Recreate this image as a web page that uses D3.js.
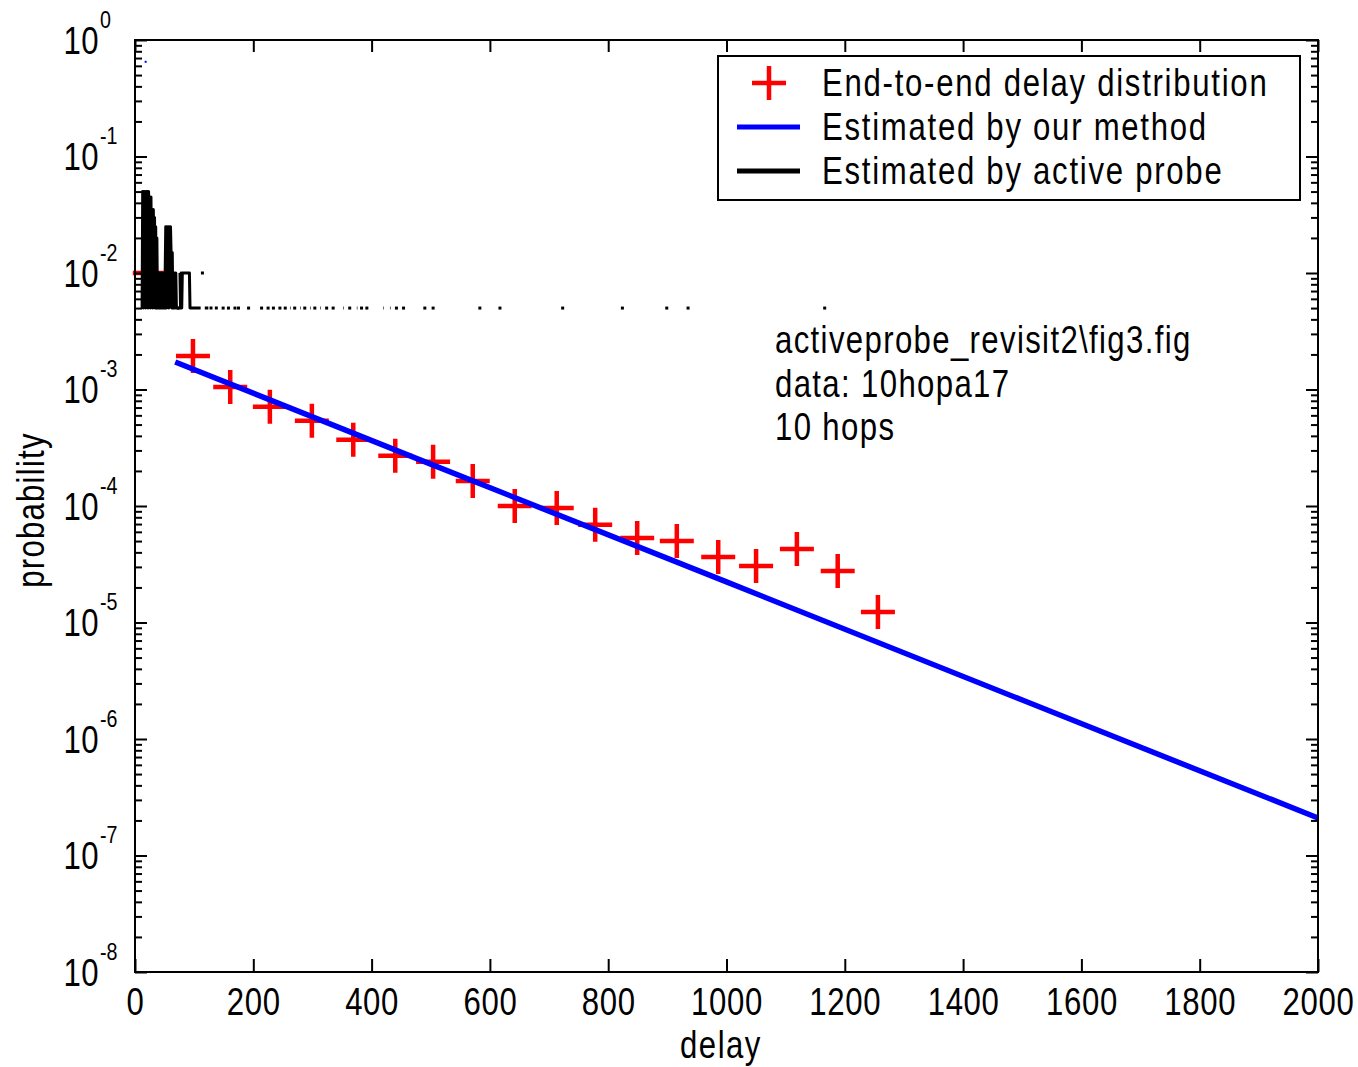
<!DOCTYPE html>
<html>
<head>
<meta charset="utf-8">
<script src="https://cdn.jsdelivr.net/npm/d3@7"></script>
<style>
  html, body { margin: 0; padding: 0; background: #fff; }
  svg text { font-family: "Liberation Sans Narrow", "Arial Narrow", "Liberation Sans", sans-serif; fill: #000; }
</style>
</head>
<body>
<svg id="chart" width="1358" height="1067"></svg>
<script>
// ---- data ----
const xTicks = [0, 200, 400, 600, 800, 1000, 1200, 1400, 1600, 1800, 2000];
const yExponents = [-8, -7, -6, -5, -4, -3, -2, -1, 0];

// end-to-end delay distribution (red +)
const distDelay = [25, 98, 161, 228, 299, 369, 440, 504, 571, 642, 713, 778, 849, 916, 986, 1050, 1119, 1188, 1256];
const distProb = [1.0e-2, 1.94e-3, 1.05e-3, 7.1e-4, 5.4e-4, 3.7e-4, 2.7e-4, 2.4e-4, 1.64e-4, 1.0e-4,
                  9.6e-5, 6.9e-5, 5.3e-5, 5.0e-5, 3.65e-5, 3.05e-5, 4.27e-5, 2.77e-5, 1.23e-5];

// estimated by our method (blue line) + one stray point near the top
const estDelay = [68, 500, 1000, 1500, 2000];
const estProb = [1.72e-3, 2.29e-4, 2.23e-5, 2.16e-6, 2.10e-7];
const estStrayDelay = [18];
const estStrayProb = [0.65];

// estimated by active probe (black): 1 ms bins, counts out of 200 probes
const probeTotal = 200;
const probeDelay = [
  12, 13, 14, 15, 16, 17, 18, 19, 20, 21, 22, 23, 24, 25, 26, 27, 28, 29, 30, 31, 32, 33, 34, 35, 36, 37, 38, 39, 40,
  41, 42, 43, 44, 45, 46, 47, 48, 49, 50, 51, 52, 53, 54, 55, 56, 57, 58, 59, 60, 61, 62, 63, 64, 65, 66, 67, 68, 69, 70,
  72, 74, 76, 77, 78, 79, 80, 81, 82, 83, 84, 85, 86, 87, 88, 89, 90, 91, 92, 93,
  94, 95, 96, 97, 98, 99, 100, 101, 102, 103, 104, 105, 106, 107, 108, 109, 110, 111, 114,
  118, 119, 120, 121, 122, 123, 124, 126, 127, 128, 129, 130, 131, 135, 136, 137, 138, 139, 140,
  149, 158, 169, 175, 192, 214, 225, 234, 245, 254, 262, 263, 270, 279, 280, 287, 296, 297, 304, 313, 314,
  324, 335, 352, 353, 363, 375, 376, 383, 392, 420, 421, 431, 432, 442, 454, 490, 504, 583, 617, 723, 824, 899, 935, 1166
];
const probeCount = [
  1, 10, 1, 10, 2, 10, 1, 10, 2, 10, 1, 10, 2, 9, 1, 9, 2, 7, 1, 7, 2, 6, 1, 5, 1, 4, 1, 2, 1,
  2, 1, 2, 1, 2, 1, 2, 1, 2, 1, 2, 5, 1, 5, 2, 5, 1, 5, 2, 5, 3, 1, 3, 1, 2, 1, 2, 1, 2, 1,
  1, 1, 2, 1, 2, 1, 2, 2, 2, 2, 2, 2, 2, 2, 2, 2, 2, 2, 2, 1,
  1, 1, 1, 1, 1, 1, 1, 1, 1, 1, 1, 1, 1, 1, 1, 1, 1, 1, 2,
  1, 1, 1, 1, 1, 1, 1, 1, 1, 1, 1, 1, 1, 1, 1, 1, 1, 1, 1,
  1, 1, 1, 1, 1, 1, 1, 1, 1, 1, 1, 1, 1, 1, 1, 1, 1, 1, 1, 1, 1,
  1, 1, 1, 1, 1, 1, 1, 1, 1, 1, 1, 1, 1, 1, 1, 1, 1, 1, 1, 1, 1, 1, 1, 1
];

const legendLabels = ["End-to-end delay distribution", "Estimated by our method", "Estimated by active probe"];
const noteLines = ["activeprobe_revisit2\\fig3.fig", "data: 10hopa17", "10 hops"];

// ---- layout ----
const plotLeft = 135, plotRight = 1318, plotTop = 40, plotBottom = 972;
const squeeze = 0.82;   // the figure font is a narrow sans, squeeze Liberation Sans to it
const at = (px, py) => `translate(${px},${py}) scale(${squeeze},1)`;
const svg = d3.select("#chart");

const x = d3.scaleLinear().domain([0, 2000]).range([plotLeft, plotRight]);
const y = d3.scaleLog().domain([1e-8, 1]).range([plotBottom, plotTop]);

const majors = yExponents.map(e => Math.pow(10, e));
const minors = [];
yExponents.slice(0, -1).forEach(e => {
  for (let m = 2; m <= 9; m++) minors.push(m * Math.pow(10, e));
});

// red + markers
svg.append("g").selectAll("path")
  .data(distDelay.map((d, i) => ({d: d, p: distProb[i]})))
  .enter().append("path")
  .attr("transform", d => `translate(${x(d.d)},${y(d.p)})`)
  .attr("d", "M-17,0H17M0,-17V17")
  .attr("stroke", "#ff0000")
  .attr("stroke-width", 4.5)
  .attr("fill", "none");

// blue estimate
const estLine = d3.line().x(d => x(d.d)).y(d => y(d.p));
svg.append("path")
  .datum(estDelay.map((d, i) => ({d: d, p: estProb[i]})))
  .attr("d", estLine)
  .attr("fill", "none")
  .attr("stroke", "#0000ff")
  .attr("stroke-width", 5.5);
svg.append("g").selectAll("rect")
  .data(estStrayDelay.map((d, i) => ({d: d, p: estStrayProb[i]})))
  .enter().append("rect")
  .attr("x", d => x(d.d) - 1).attr("y", d => y(d.p) - 1)
  .attr("width", 2).attr("height", 2)
  .attr("fill", "#0000ff");

// black active probe histogram (zero bins break the line on log scale)
const countByDelay = new Map(probeDelay.map((d, i) => [d, probeCount[i]]));
const maxDelay = d3.max(probeDelay);
const bins = d3.range(0, maxDelay + 2).map(d => ({d: d, c: countByDelay.get(d) || 0}));
const probeLine = d3.line()
  .defined(b => b.c > 0)
  .x(b => x(b.d))
  .y(b => y(b.c / probeTotal));
svg.append("path")
  .datum(bins)
  .attr("d", probeLine)
  .attr("fill", "none")
  .attr("stroke", "#000")
  .attr("stroke-width", 3)
  .attr("stroke-linejoin", "round");
const lonely = bins.filter((b, i) => b.c > 0 && (i === 0 || bins[i - 1].c === 0) && (i === bins.length - 1 || bins[i + 1].c === 0));
svg.append("g").selectAll("rect")
  .data(lonely)
  .enter().append("rect")
  .attr("x", b => x(b.d) - 1.5)
  .attr("y", b => y(b.c / probeTotal) - 1.5)
  .attr("width", 3).attr("height", 3)
  .attr("fill", "#000");

// ---- axes ----
const axisStyle = g => {
  g.attr("font-family", null).attr("font-size", null);
  g.select(".domain").remove();
  g.selectAll("line").attr("stroke", "#000").attr("stroke-width", 2);
};

svg.append("g")
  .attr("transform", `translate(0,${plotBottom})`)
  .call(d3.axisBottom(x).tickValues(xTicks).tickSize(-13).tickFormat(d3.format("d")))
  .call(axisStyle)
  .call(g => g.selectAll("text")
    .attr("dy", null).attr("y", null).attr("fill", null)
    .attr("transform", at(0, 43))
    .attr("font-size", 38).attr("letter-spacing", 0.8));
svg.append("g")
  .attr("transform", `translate(0,${plotTop})`)
  .call(d3.axisTop(x).tickValues(xTicks).tickSize(-12).tickFormat(""))
  .call(axisStyle);

// left: decades with labels, minors shorter
const leftAxis = svg.append("g")
  .attr("transform", `translate(${plotLeft},0)`)
  .call(d3.axisLeft(y).tickValues(majors).tickSize(-12).tickFormat(""))
  .call(axisStyle);
leftAxis.selectAll(".tick text").remove();
leftAxis.selectAll(".tick").each(function(v) {
  const e = Math.round(Math.log10(v));
  const g = d3.select(this);
  g.append("text").attr("transform", at(-36, 13))
    .attr("text-anchor", "end").attr("font-size", 38).attr("letter-spacing", 0.5)
    .text("10");
  g.append("text").attr("transform", at(-35, -13))
    .attr("text-anchor", "start").attr("font-size", 24)
    .text(e);
});
svg.append("g")
  .attr("transform", `translate(${plotLeft},0)`)
  .call(d3.axisLeft(y).tickValues(minors).tickSize(-7).tickFormat(""))
  .call(axisStyle);
svg.append("g")
  .attr("transform", `translate(${plotRight},0)`)
  .call(d3.axisRight(y).tickValues(majors).tickSize(-12).tickFormat(""))
  .call(axisStyle);
svg.append("g")
  .attr("transform", `translate(${plotRight},0)`)
  .call(d3.axisRight(y).tickValues(minors).tickSize(-7).tickFormat(""))
  .call(axisStyle);

// plot box
svg.append("rect")
  .attr("x", plotLeft).attr("y", plotTop)
  .attr("width", plotRight - plotLeft).attr("height", plotBottom - plotTop)
  .attr("fill", "none").attr("stroke", "#000").attr("stroke-width", 2);

// axis titles
svg.append("text")
  .attr("transform", at(721, 1058))
  .attr("text-anchor", "middle").attr("font-size", 38).attr("letter-spacing", 1.8)
  .text("delay");
svg.append("text")
  .attr("transform", `translate(44,510) rotate(-90) scale(${squeeze},1)`)
  .attr("text-anchor", "middle").attr("font-size", 38).attr("letter-spacing", 1.5)
  .text("probability");

// annotation
svg.append("g").selectAll("text")
  .data(noteLines)
  .enter().append("text")
  .attr("transform", (d, i) => at(775, 353 + i * 43.5))
  .attr("font-size", 38).attr("letter-spacing", 1.65)
  .text(d => d);

// ---- legend ----
const legend = svg.append("g");
legend.append("rect")
  .attr("x", 718).attr("y", 56).attr("width", 582).attr("height", 144)
  .attr("fill", "#fff").attr("stroke", "#000").attr("stroke-width", 2);
const rowY = i => 83 + i * 44;
legend.append("path")
  .attr("transform", `translate(769,${rowY(0)})`)
  .attr("d", "M-17,0H17M0,-17V17")
  .attr("stroke", "#ff0000").attr("stroke-width", 4.5).attr("fill", "none");
legend.append("line")
  .attr("x1", 737).attr("x2", 800).attr("y1", rowY(1)).attr("y2", rowY(1))
  .attr("stroke", "#0000ff").attr("stroke-width", 5);
legend.append("line")
  .attr("x1", 737).attr("x2", 800).attr("y1", rowY(2)).attr("y2", rowY(2))
  .attr("stroke", "#000").attr("stroke-width", 5);
legend.selectAll("text.lab")
  .data(legendLabels)
  .enter().append("text")
  .attr("class", "lab")
  .attr("transform", (d, i) => at(822, rowY(i) + 13))
  .attr("font-size", 38).attr("letter-spacing", 2.1)
  .text(d => d);
</script>
</body>
</html>
